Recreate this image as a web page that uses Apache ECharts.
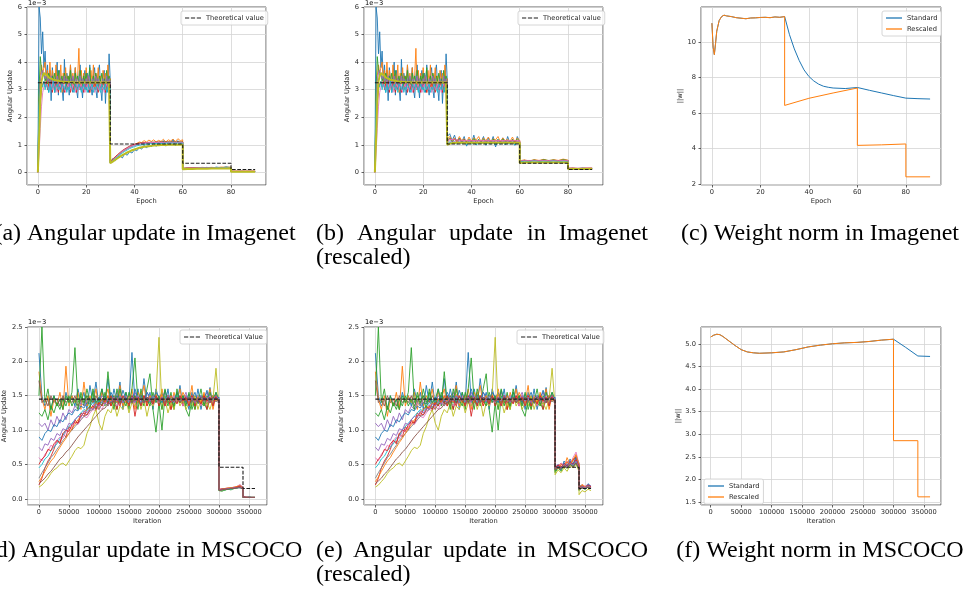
<!DOCTYPE html>
<html>
<head>
<meta charset="utf-8">
<title>Angular update and weight norm</title>
<script src="https://cdn.jsdelivr.net/npm/echarts@6/dist/echarts.min.js"></script>
<style>
  html, body { margin: 0; padding: 0; background: #fff; }
  #chart { width: 966px; height: 594px; }
</style>
</head>
<body>
<div id="chart"></div>
<script>
// ---------- Imagenet (epochs), angular update in units of 1e-3 ----------
const epHalf = [0,0.5,1,1.5,2,2.5,3,3.5,4,4.5,5,5.5,6,6.5,7,7.5,8,8.5,9,9.5,
  10,10.5,11,11.5,12,12.5,13,13.5,14,14.5,15,15.5,16,16.5,17,17.5,18,18.5,19,19.5,
  20,20.5,21,21.5,22,22.5,23,23.5,24,24.5,25,25.5,26,26.5,27,27.5,28,28.5,29,29.5,30];
const epS2 = [30,31,32,33,34,35,36,37,38,39,40,41,42,43,44,45,46,47,48,49,50,51,52,53,54,55,56,57,58,59,60];
const epS3 = [60,62,64,66,68,70,72,74,76,78,80];
const epS4 = [80,82,84,86,88,90];

// line order: blue, orange, green, red, purple, pink, cyan, olive
const imgColors = ['#1f77b4','#ff7f0e','#2ca02c','#d62728','#9467bd','#e377c2','#17becf','#bcbd22'];

// epochs 0-30, same run for standard and rescaled
const imgStage1 = [
  [0.05,6.0,5.6,4.3,5.1,3.8,4.4,3.4,3.9,2.9, 3.7,2.6,3.8,3.3,2.9,3.5,4.0,2.8,3.7,3.2,
   3.1,2.6,4.1,3.0,3.6,3.3,2.8,3.9,3.1,2.9, 3.4,3.8,3.0,2.7,3.5,3.9,3.2,2.7,3.4,3.7,
   3.0,3.6,2.9,3.9,3.1,2.8,3.5,3.8,3.0,2.7, 3.6,3.9,3.1,2.6,3.5,3.7,2.5,3.4,2.9,4.3, 3.3],
  [0.0,2.6,3.5,3.9,3.6,3.8,4.0,3.3,3.7,3.1, 4.0,3.2,3.7,3.4,3.1,3.9,3.0,3.6,3.3,3.9,
   2.9,3.6,3.2,3.8,3.0,3.5,3.3,3.9,3.1,3.6, 3.0,3.8,3.2,3.5,4.5,3.0,3.7,3.2,3.6,3.0,
   3.8,3.3,3.5,2.9,3.7,3.2,3.9,3.0,3.6,3.2, 3.8,3.1,3.5,3.0,3.7,3.3,3.6,3.0,3.9,3.2, 3.4],
  [0.0,3.0,4.2,3.7,3.5,3.6,3.3,3.5,3.2,3.6, 3.4,3.1,3.5,3.3,3.6,3.2,3.4,3.7,3.1,3.3,
   3.5,3.2,3.6,3.4,3.1,3.5,3.3,3.7,3.2,3.4, 3.1,3.6,3.3,3.5,3.2,3.7,3.4,3.1,3.5,3.3,
   3.6,3.2,3.4,3.8,3.1,3.3,3.5,3.2,3.6,3.4, 3.1,3.5,3.3,3.6,3.2,3.4,3.1,3.7,3.3,3.5, 3.3],
  [0.0,1.4,2.5,3.0,3.2,3.3,3.1,3.3,3.0,3.2, 3.1,3.3,2.9,3.2,3.0,3.3,3.1,2.9,3.2,3.0,
   3.3,3.1,2.9,3.2,3.0,3.1,3.3,2.9,3.1,3.2, 3.0,3.2,2.9,3.1,3.3,3.0,3.2,3.1,2.9,3.2,
   3.0,3.3,3.1,2.9,3.2,3.0,3.1,3.3,3.0,3.2, 2.9,3.1,3.2,3.0,3.3,3.1,2.9,3.2,3.0,3.1, 3.2],
  [0.0,2.2,3.3,3.6,3.7,3.5,3.4,3.5,3.3,3.4, 3.2,3.5,3.3,3.1,3.4,3.2,3.5,3.3,3.2,3.4,
   3.1,3.3,3.5,3.2,3.4,3.3,3.1,3.4,3.2,3.5, 3.3,3.2,3.4,3.1,3.3,3.5,3.2,3.4,3.3,3.1,
   3.4,3.2,3.5,3.3,3.1,3.4,3.2,3.3,3.5,3.2, 3.4,3.1,3.3,3.2,3.4,3.3,3.1,3.5,3.2,3.4, 3.3],
  [0.0,0.7,1.6,2.4,2.9,3.1,3.2,3.1,3.2,3.0, 3.1,3.2,3.0,3.1,3.2,2.9,3.1,3.0,3.2,3.1,
   3.0,3.2,3.1,2.9,3.1,3.2,3.0,3.1,3.0,3.2, 3.1,2.9,3.1,3.2,3.0,3.1,3.2,3.0,3.1,2.9,
   3.1,3.2,3.0,3.1,3.2,3.0,3.1,2.9,3.1,3.2, 3.0,3.1,3.2,3.0,3.1,2.9,3.1,3.2,3.0,3.1, 3.1],
  [0.3,2.4,3.0,3.2,3.1,3.3,3.0,3.2,3.1,2.9, 3.2,3.0,3.1,3.3,2.9,3.1,3.2,3.0,3.1,2.9,
   3.2,3.1,3.0,3.2,2.9,3.1,3.0,3.2,3.1,3.0, 2.9,3.2,3.1,3.0,3.2,3.1,2.9,3.1,3.2,3.0,
   3.1,2.9,3.2,3.0,3.1,3.2,2.9,3.1,3.0,3.2, 3.1,3.0,2.9,3.2,3.1,3.0,3.2,2.9,3.1,3.0, 3.1],
  [0.0,1.2,2.6,3.3,3.5,3.6,3.6,3.55,3.5,3.45, 3.42,3.4,3.38,3.36,3.35,3.34,3.33,3.32,3.31,3.3,
   3.3,3.29,3.29,3.28,3.28,3.28,3.27,3.27,3.27,3.27, 3.27,3.26,3.27,3.26,3.27,3.26,3.27,3.26,3.27,3.26,
   3.27,3.26,3.27,3.26,3.27,3.26,3.27,3.26,3.27,3.26, 3.27,3.26,3.27,3.26,3.27,3.26,3.27,3.26,3.27,3.26, 3.27]
];

// epochs 30-60, standard
const imgStage2Std = [
  [0.35,0.5,0.42,0.55,0.6,0.52,0.68,0.62,0.75,0.7, 0.82,0.78,0.9,0.84,0.98,0.88,1.02,0.92,1.08,0.94, 1.05,1.0,1.15,0.95,1.1,1.02,1.2,0.96,1.15,1.05, 1.1],
  [0.4,0.48,0.56,0.62,0.68,0.74,0.8,0.86,0.9,0.95, 1.0,1.05,1.1,1.08,1.15,1.1,1.17,1.12,1.18,1.1, 1.16,1.12,1.2,1.1,1.18,1.14,1.2,1.12,1.22,1.15, 1.18],
  [0.37,0.46,0.55,0.62,0.7,0.77,0.83,0.88,0.93,0.97, 1.0,1.03,1.05,1.06,1.07,1.08,1.08,1.09,1.09,1.09, 1.09,1.1,1.1,1.1,1.1,1.1,1.1,1.1,1.1,1.1, 1.1],
  [0.38,0.47,0.56,0.64,0.72,0.79,0.85,0.9,0.95,0.99, 1.02,1.04,1.06,1.07,1.08,1.08,1.09,1.09,1.09,1.1, 1.1,1.1,1.1,1.1,1.1,1.1,1.1,1.1,1.1,1.1, 1.1],
  [0.35,0.44,0.52,0.6,0.67,0.74,0.8,0.85,0.9,0.94, 0.97,1.0,1.02,1.04,1.05,1.06,1.06,1.07,1.07,1.07, 1.08,1.08,1.08,1.08,1.08,1.08,1.08,1.08,1.08,1.08, 1.08],
  [0.36,0.45,0.53,0.61,0.69,0.76,0.82,0.87,0.92,0.96, 0.99,1.01,1.03,1.05,1.06,1.07,1.07,1.08,1.08,1.08, 1.08,1.08,1.08,1.08,1.08,1.08,1.08,1.08,1.08,1.08, 1.08],
  [0.34,0.42,0.5,0.57,0.64,0.7,0.76,0.81,0.86,0.9, 0.93,0.96,0.98,1.0,1.01,1.02,1.03,1.04,1.04,1.05, 1.05,1.05,1.05,1.06,1.06,1.06,1.06,1.06,1.06,1.06, 1.06],
  [0.33,0.39,0.45,0.51,0.57,0.62,0.67,0.72,0.76,0.8, 0.83,0.86,0.89,0.91,0.93,0.94,0.95,0.96,0.97,0.98, 0.98,0.99,0.99,0.99,1.0,1.0,1.0,1.0,1.0,1.0, 1.0]
];
// epochs 30-60, rescaled
const imgStage2Res = [
  [1.3,1.4,1.15,1.35,1.05,1.25,1.1,1.3,0.95,1.2, 1.05,1.35,1.0,1.2,1.1,1.3,0.98,1.25,1.05,1.3, 0.92,1.2,1.08,1.25,1.0,1.3,1.05,1.2,0.98,1.3, 1.1],
  [1.2,1.3,1.15,1.25,1.1,1.3,1.15,1.22,1.1,1.28, 1.12,1.25,1.18,1.3,1.1,1.25,1.15,1.28,1.12,1.22, 1.18,1.3,1.1,1.25,1.15,1.2,1.12,1.28,1.1,1.25, 1.15],
  [1.15,1.25,1.1,1.2,1.15,1.22,1.08,1.2,1.12,1.18, 1.1,1.22,1.14,1.18,1.1,1.2,1.12,1.16,1.1,1.2, 1.14,1.18,1.1,1.2,1.12,1.16,1.1,1.18,1.12,1.2, 1.12],
  [1.1,1.22,1.18,1.2,1.16,1.18,1.15,1.17,1.14,1.16, 1.15,1.16,1.14,1.15,1.15,1.14,1.15,1.14,1.15,1.14, 1.14,1.15,1.14,1.14,1.15,1.14,1.14,1.15,1.14,1.14, 1.14],
  [1.05,1.15,1.1,1.12,1.08,1.14,1.1,1.12,1.06,1.13, 1.1,1.12,1.08,1.14,1.1,1.11,1.07,1.13,1.1,1.12, 1.08,1.12,1.1,1.13,1.07,1.12,1.1,1.11,1.08,1.12, 1.1],
  [1.12,1.2,1.19,1.18,1.17,1.17,1.16,1.16,1.16,1.15, 1.15,1.15,1.15,1.15,1.15,1.15,1.15,1.15,1.15,1.15, 1.15,1.15,1.15,1.15,1.15,1.15,1.15,1.15,1.15,1.15, 1.15],
  [1.0,1.1,1.05,1.08,1.02,1.1,1.04,1.08,1.0,1.07, 1.03,1.08,1.0,1.06,1.04,1.08,1.01,1.06,1.03,1.07, 1.0,1.06,1.03,1.08,1.01,1.05,1.03,1.07,1.0,1.06, 1.03],
  [1.0,1.04,1.06,1.06,1.07,1.07,1.07,1.07,1.07,1.07, 1.07,1.07,1.07,1.07,1.07,1.07,1.07,1.07,1.07,1.07, 1.07,1.07,1.07,1.07,1.07,1.07,1.07,1.07,1.07,1.07, 1.07]
];
// epochs 60-80
const imgStage3Std = [
  [0.13,0.16,0.14,0.17,0.15,0.18,0.15,0.19,0.16,0.2,0.17],
  [0.15,0.16,0.17,0.16,0.18,0.17,0.18,0.17,0.19,0.18,0.19],
  [0.14,0.15,0.15,0.16,0.16,0.16,0.17,0.17,0.17,0.18,0.17],
  [0.14,0.15,0.16,0.16,0.16,0.17,0.17,0.17,0.17,0.17,0.17],
  [0.13,0.14,0.15,0.15,0.16,0.16,0.16,0.16,0.17,0.17,0.17],
  [0.14,0.15,0.15,0.16,0.16,0.16,0.16,0.17,0.17,0.17,0.17],
  [0.12,0.13,0.14,0.14,0.15,0.15,0.15,0.16,0.16,0.16,0.16],
  [0.11,0.12,0.12,0.13,0.13,0.13,0.14,0.14,0.14,0.14,0.15]
];
const imgStage3Res = [
  [0.4,0.44,0.38,0.45,0.4,0.47,0.39,0.45,0.41,0.46,0.42],
  [0.42,0.45,0.41,0.46,0.43,0.47,0.42,0.46,0.43,0.48,0.44],
  [0.41,0.43,0.42,0.44,0.42,0.45,0.43,0.44,0.42,0.45,0.43],
  [0.42,0.43,0.43,0.43,0.43,0.43,0.43,0.43,0.43,0.43,0.43],
  [0.4,0.42,0.41,0.42,0.41,0.43,0.41,0.42,0.41,0.43,0.42],
  [0.42,0.42,0.42,0.42,0.42,0.42,0.42,0.42,0.42,0.42,0.42],
  [0.38,0.4,0.39,0.41,0.39,0.4,0.39,0.41,0.39,0.4,0.39],
  [0.34,0.36,0.36,0.36,0.36,0.36,0.36,0.36,0.36,0.36,0.36]
];
// epochs 80-90
const imgStage4Std = [
  [0.04,0.03,0.04,0.03,0.04,0.03],
  [0.04,0.04,0.04,0.04,0.04,0.04],
  [0.03,0.03,0.03,0.03,0.03,0.03],
  [0.04,0.04,0.04,0.04,0.04,0.04],
  [0.03,0.03,0.03,0.03,0.03,0.03],
  [0.04,0.04,0.04,0.04,0.04,0.04],
  [0.03,0.03,0.03,0.03,0.03,0.03],
  [0.02,0.02,0.02,0.02,0.02,0.02]
];
const imgStage4Res = [
  [0.14,0.15,0.13,0.16,0.14,0.15],
  [0.15,0.15,0.14,0.15,0.15,0.16],
  [0.14,0.14,0.14,0.14,0.14,0.14],
  [0.14,0.15,0.14,0.14,0.15,0.14],
  [0.13,0.14,0.13,0.14,0.13,0.14],
  [0.15,0.15,0.15,0.15,0.15,0.15],
  [0.13,0.13,0.13,0.13,0.13,0.13],
  [0.12,0.12,0.12,0.12,0.12,0.12]
];
const imgTheoX = [0,30,30,60,60,80,80,90];
const imgTheoY = [3.25,3.25,1.03,1.03,0.33,0.33,0.1,0.1];

// ---------- Imagenet weight norm ----------
const normEpShared = [0,0.5,1,1.5,2,3,4,5,6,8,10,12,14,16,18,20,22,24,26,28,30];
const normShared = [11.05,9.7,9.28,9.9,10.6,11.2,11.42,11.5,11.46,11.42,11.36,11.33,11.3,11.34,11.35,11.37,11.38,11.36,11.4,11.38,11.42];
const normStdEp = [30,32,34,36,38,40,42,44,46,48,50,55,60,65,70,75,80,85,90];
const normStd = [11.42,10.4,9.6,8.95,8.42,8.05,7.8,7.62,7.5,7.44,7.4,7.37,7.43,7.27,7.12,6.97,6.83,6.8,6.78];
const normResEp = [30,30,40,50,60,60,70,80,80,90];
const normRes = [11.42,6.42,6.82,7.12,7.4,4.17,4.2,4.25,2.4,2.4];

// ---------- MSCOCO (iterations), angular update in units of 1e-3 ----------
const itS1 = [0,5000,10000,15000,20000,25000,30000,35000,40000,45000,
  50000,55000,60000,65000,70000,75000,80000,85000,90000,95000,
  100000,105000,110000,115000,120000,125000,130000,135000,140000,145000,
  150000,155000,160000,165000,170000,175000,180000,185000,190000,195000,
  200000,205000,210000,215000,220000,225000,230000,235000,240000,245000,
  250000,255000,260000,265000,270000,275000,280000,285000,290000,295000,300000];
const itS2 = [300000,305000,310000,315000,320000,325000,330000,335000,340000];
const itS3 = [340000,345000,350000,355000,360000];

// tab10 cycle: blue, orange, green, red, purple, brown, pink, gray, olive, cyan, then again
const cocoColors = ['#1f77b4','#ff7f0e','#2ca02c','#d62728','#9467bd','#8c564b','#e377c2','#7f7f7f','#bcbd22','#17becf',
                    '#1f77b4','#ff7f0e','#2ca02c','#d62728','#9467bd','#8c564b'];

const cocoStage1 = [
  [2.12,1.5,1.35,1.45,1.3,1.5,1.35,1.45,1.3,1.55, 1.4,1.5,1.35,1.6,1.4,1.55,1.3,1.65,1.4,1.7,
   1.35,1.6,1.4,1.75,1.35,1.6,1.4,1.7,1.3,1.55, 1.4,2.13,1.4,1.6,1.35,1.75,1.4,1.55,1.3,1.6,
   1.45,1.55,1.35,1.6,1.3,1.5,1.4,1.65,1.35,1.5, 1.3,1.55,1.35,1.6,1.3,1.5,1.4,1.62,1.35,1.55, 1.45],
  [1.85,1.45,1.3,1.5,1.2,1.45,1.35,1.55,1.3,1.93, 1.35,1.5,1.4,1.55,1.3,1.7,1.35,1.5,1.4,1.6,
   1.3,1.55,1.45,1.6,1.35,1.5,1.4,1.65,1.35,1.5, 1.4,1.6,1.3,1.55,1.45,1.65,1.35,1.5,1.4,1.55,
   1.35,1.6,1.4,1.5,1.3,1.55,1.4,1.6,1.35,1.5, 1.4,1.65,1.3,1.5,1.35,1.55,1.4,1.6,1.3,1.5, 1.4],
  [1.5,2.5,1.4,1.6,1.3,1.5,1.35,1.45,1.3,1.5, 1.4,1.55,2.2,1.4,1.5,1.35,1.6,1.4,1.55,1.3,
   1.45,1.6,1.35,1.85,1.4,1.5,1.3,1.6,1.4,1.55, 1.3,1.6,2.05,1.4,1.5,1.35,1.6,1.82,1.3,0.97,
   1.4,1.0,1.5,1.35,1.55,1.3,1.6,1.4,1.5,1.3, 1.2,1.45,1.3,1.5,1.35,1.4,1.3,1.55,1.4,1.5, 1.45],
  [0.2,0.3,0.45,0.55,0.62,0.72,0.85,0.8,0.95,0.9, 1.05,1.0,1.15,1.1,1.25,1.2,1.3,1.35,1.3,1.4,
   1.35,1.45,1.4,1.5,1.35,1.45,1.3,1.5,1.4,1.45, 1.35,1.5,1.2,1.45,1.4,1.5,1.35,1.45,1.4,1.5,
   1.35,1.45,1.4,1.5,1.3,1.45,1.4,1.5,1.35,1.45, 1.4,1.5,1.35,1.45,1.4,1.5,1.3,1.45,1.4,1.5, 1.4],
  [1.1,1.05,1.1,1.0,1.15,1.05,1.2,1.1,1.25,1.15, 1.3,1.25,1.35,1.3,1.4,1.35,1.45,1.4,1.35,1.45,
   1.4,1.5,1.45,1.4,1.5,1.45,1.55,1.4,1.5,1.45, 1.5,1.4,1.55,1.45,1.5,1.4,1.55,1.45,1.5,1.4,
   1.5,1.45,1.55,1.4,1.5,1.45,1.4,1.5,1.45,1.55, 1.4,1.5,1.45,1.4,1.5,1.45,1.55,1.4,1.5,1.45, 1.45],
  [1.72,1.4,1.45,1.35,1.5,1.4,1.45,1.35,1.5,1.4, 1.45,1.4,1.5,1.35,1.45,1.4,1.5,1.45,1.4,1.5,
   1.4,1.45,1.5,1.4,1.45,1.35,1.5,1.45,1.4,1.5, 1.45,1.4,1.5,1.45,1.4,1.5,1.45,1.4,1.5,1.45,
   1.4,1.5,1.45,1.4,1.5,1.45,1.4,1.45,1.5,1.4, 1.45,1.4,1.5,1.45,1.4,1.5,1.45,1.4,1.5,1.45, 1.45],
  [0.6,0.55,0.65,0.7,0.78,0.75,0.85,0.9,0.88,0.98, 1.0,1.05,1.1,1.08,1.15,1.2,1.18,1.25,1.3,1.28,
   1.35,1.3,1.4,1.35,1.45,1.4,1.35,1.45,1.4,1.5, 1.4,1.45,1.35,1.5,1.4,1.45,1.4,1.5,1.35,1.45,
   1.4,1.5,1.35,1.45,1.4,1.5,1.4,1.45,1.35,1.5, 1.4,1.45,1.4,1.5,1.35,1.45,1.4,1.5,1.4,1.45, 1.4],
  [0.3,0.38,0.45,0.52,0.6,0.65,0.72,0.78,0.85,0.9, 0.95,1.0,1.05,1.1,1.15,1.2,1.22,1.28,1.3,1.35,
   1.3,1.38,1.4,1.35,1.42,1.4,1.45,1.38,1.42,1.4, 1.42,1.38,1.45,1.4,1.38,1.45,1.4,1.42,1.38,1.45,
   1.4,1.42,1.38,1.45,1.4,1.38,1.42,1.45,1.4,1.38, 1.42,1.4,1.45,1.38,1.42,1.4,1.38,1.45,1.4,1.42, 1.4],
  [0.17,0.2,0.25,0.3,0.37,0.42,0.45,0.5,0.52,0.48, 0.55,0.62,0.7,0.75,0.73,0.78,0.95,1.05,1.2,1.3,
   1.1,1.0,1.2,1.3,1.25,1.4,1.2,1.35,1.3,1.45, 1.25,1.4,1.35,1.5,1.3,1.45,1.2,1.4,1.35,1.5,
   2.35,1.3,1.45,1.25,1.4,1.3,1.5,1.35,1.45,1.3, 1.4,1.35,1.5,1.3,1.45,1.35,1.4,1.3,1.45,1.9, 1.35],
  [0.45,0.5,0.58,0.62,0.7,0.75,0.8,0.88,0.92,1.0, 1.05,1.1,1.15,1.2,1.25,1.3,1.28,1.35,1.4,1.38,
   1.42,1.4,1.45,1.38,1.5,1.42,1.4,1.48,1.4,1.45, 1.4,1.5,1.42,1.45,1.4,1.48,1.42,1.4,1.5,1.42,
   1.45,1.4,1.48,1.42,1.45,1.4,1.5,1.42,1.45,1.4, 1.48,1.42,1.45,1.4,1.5,1.42,1.45,1.4,1.48,1.42, 1.45],
  [0.9,0.85,0.95,1.0,0.98,1.08,1.05,1.15,1.12,1.2, 1.25,1.22,1.3,1.28,1.35,1.32,1.4,1.38,1.45,1.4,
   1.48,1.42,1.5,1.4,1.55,1.45,1.5,1.4,1.58,1.45, 1.5,1.42,1.6,1.45,1.52,1.4,1.55,1.48,1.42,1.55,
   1.48,1.4,1.58,1.45,1.5,1.42,1.55,1.45,1.5,1.4, 1.52,1.45,1.55,1.4,1.5,1.45,1.58,1.42,1.5,1.45, 1.48],
  [0.25,0.32,0.4,0.48,0.55,0.6,0.68,0.75,0.82,0.88, 0.95,1.02,1.08,1.15,1.2,1.26,1.3,1.35,1.32,1.4,
   1.38,1.45,1.4,1.5,1.42,1.48,1.4,1.52,1.45,1.4, 1.5,1.42,1.48,1.4,1.55,1.45,1.4,1.5,1.42,1.48,
   1.4,1.52,1.45,1.4,1.5,1.42,1.48,1.4,1.55,1.45, 1.4,1.5,1.42,1.48,1.4,1.52,1.45,1.4,1.5,1.42, 1.45],
  [1.25,1.2,1.3,1.15,1.35,1.25,1.4,1.3,1.45,1.35, 1.5,1.35,1.45,1.3,1.55,1.4,1.5,1.3,1.6,1.4,
   1.45,1.35,1.55,1.4,1.5,1.3,1.6,1.4,1.45,1.35, 1.55,1.4,1.5,1.3,1.6,1.4,1.45,1.35,1.55,1.4,
   1.5,1.3,1.6,1.4,1.45,1.35,1.55,1.4,1.5,1.35, 1.55,1.3,1.45,1.4,1.6,1.35,1.5,1.4,1.45,1.55, 1.4],
  [0.5,0.58,0.62,0.72,0.7,0.8,0.85,0.82,0.95,1.0, 0.98,1.08,1.12,1.1,1.2,1.25,1.22,1.3,1.35,1.3,
   1.4,1.35,1.45,1.38,1.5,1.4,1.45,1.35,1.5,1.42, 1.38,1.5,1.42,1.48,1.35,1.5,1.4,1.45,1.38,1.5,
   1.42,1.48,1.35,1.5,1.4,1.45,1.38,1.5,1.42,1.48, 1.35,1.5,1.4,1.45,1.38,1.5,1.42,1.48,1.35,1.5, 1.4],
  [0.75,0.7,0.8,0.78,0.88,0.85,0.95,0.92,1.02,1.0, 1.1,1.08,1.15,1.2,1.18,1.28,1.25,1.32,1.3,1.38,
   1.35,1.42,1.38,1.45,1.4,1.48,1.42,1.5,1.4,1.45, 1.42,1.48,1.4,1.5,1.45,1.4,1.48,1.42,1.5,1.45,
   1.4,1.48,1.42,1.5,1.45,1.4,1.48,1.42,1.45,1.5, 1.42,1.48,1.4,1.45,1.5,1.42,1.48,1.4,1.45,1.5, 1.45],
  [0.22,0.26,0.3,0.36,0.4,0.46,0.52,0.58,0.62,0.68, 0.72,0.78,0.84,0.9,0.95,1.0,1.05,1.1,1.15,1.2,
   1.25,1.3,1.32,1.38,1.4,1.42,1.45,1.4,1.48,1.42, 1.45,1.4,1.48,1.42,1.45,1.4,1.48,1.45,1.42,1.48,
   1.42,1.45,1.4,1.48,1.45,1.42,1.48,1.4,1.45,1.42, 1.48,1.42,1.45,1.4,1.48,1.42,1.45,1.4,1.48,1.45, 1.42]
];
// iterations 300k-340k
const cocoStage2Std = [
  [0.14,0.13,0.15,0.14,0.16,0.15,0.17,0.2,0.16],
  [0.13,0.14,0.14,0.15,0.15,0.16,0.18,0.19,0.17],
  [0.12,0.11,0.13,0.14,0.13,0.15,0.16,0.17,0.15],
  [0.14,0.14,0.15,0.15,0.16,0.16,0.17,0.18,0.16],
  [0.13,0.14,0.14,0.15,0.15,0.16,0.17,0.18,0.16],
  [0.13,0.13,0.14,0.14,0.15,0.15,0.16,0.17,0.15],
  [0.14,0.15,0.15,0.16,0.16,0.17,0.18,0.21,0.17],
  [0.13,0.14,0.14,0.15,0.15,0.16,0.16,0.17,0.15],
  [0.12,0.12,0.13,0.14,0.14,0.15,0.16,0.17,0.15],
  [0.12,0.13,0.13,0.14,0.14,0.15,0.16,0.16,0.14],
  [0.13,0.14,0.15,0.15,0.16,0.16,0.17,0.18,0.16],
  [0.14,0.14,0.15,0.16,0.16,0.17,0.18,0.19,0.16],
  [0.12,0.13,0.13,0.14,0.15,0.15,0.16,0.17,0.15],
  [0.13,0.14,0.14,0.15,0.15,0.16,0.17,0.18,0.15],
  [0.13,0.13,0.14,0.15,0.15,0.16,0.16,0.17,0.15],
  [0.12,0.13,0.14,0.14,0.15,0.15,0.16,0.16,0.14]
];
const cocoStage2Res = [
  [0.45,0.5,0.42,0.55,0.48,0.58,0.5,0.62,0.52],
  [0.42,0.48,0.52,0.45,0.6,0.5,0.55,0.65,0.48],
  [0.38,0.45,0.4,0.5,0.44,0.52,0.48,0.55,0.42],
  [0.47,0.44,0.5,0.48,0.53,0.5,0.57,0.6,0.5],
  [0.44,0.5,0.46,0.52,0.48,0.56,0.5,0.58,0.47],
  [0.46,0.48,0.44,0.5,0.47,0.52,0.5,0.55,0.46],
  [0.5,0.46,0.52,0.49,0.55,0.5,0.6,0.68,0.5],
  [0.45,0.47,0.45,0.48,0.46,0.5,0.48,0.52,0.45],
  [0.35,0.42,0.38,0.45,0.4,0.48,0.45,0.5,0.4],
  [0.43,0.46,0.42,0.5,0.45,0.52,0.47,0.55,0.44],
  [0.44,0.48,0.45,0.52,0.47,0.55,0.5,0.6,0.48],
  [0.46,0.44,0.5,0.47,0.54,0.49,0.58,0.63,0.5],
  [0.4,0.46,0.43,0.48,0.45,0.5,0.47,0.52,0.43],
  [0.45,0.49,0.46,0.51,0.48,0.53,0.5,0.57,0.47],
  [0.43,0.47,0.44,0.5,0.46,0.52,0.49,0.55,0.45],
  [0.42,0.45,0.43,0.48,0.45,0.5,0.46,0.52,0.44]
];
// iterations 340k-360k
const cocoStage3Std = [
  [0.03,0.02,0.03,0.02,0.02],
  [0.03,0.03,0.02,0.02,0.02],
  [0.02,0.02,0.02,0.02,0.02],
  [0.03,0.02,0.02,0.02,0.02],
  [0.02,0.02,0.02,0.02,0.02],
  [0.02,0.02,0.02,0.02,0.02],
  [0.03,0.03,0.02,0.02,0.02],
  [0.02,0.02,0.02,0.02,0.02],
  [0.02,0.02,0.02,0.02,0.02],
  [0.02,0.02,0.02,0.02,0.02],
  [0.03,0.02,0.02,0.02,0.02],
  [0.02,0.02,0.02,0.02,0.02],
  [0.02,0.02,0.02,0.02,0.02],
  [0.03,0.02,0.02,0.02,0.02],
  [0.02,0.02,0.02,0.02,0.02],
  [0.02,0.02,0.02,0.02,0.02]
];
const cocoStage3Res = [
  [0.18,0.2,0.16,0.22,0.18],
  [0.16,0.21,0.18,0.2,0.17],
  [0.12,0.17,0.14,0.18,0.15],
  [0.17,0.19,0.16,0.2,0.18],
  [0.15,0.18,0.17,0.19,0.16],
  [0.14,0.17,0.15,0.18,0.16],
  [0.16,0.2,0.18,0.21,0.19],
  [0.15,0.17,0.16,0.18,0.16],
  [0.06,0.12,0.1,0.14,0.12],
  [0.14,0.18,0.15,0.19,0.16],
  [0.17,0.19,0.16,0.21,0.18],
  [0.15,0.2,0.17,0.19,0.17],
  [0.13,0.16,0.14,0.17,0.15],
  [0.16,0.18,0.16,0.2,0.17],
  [0.14,0.18,0.16,0.19,0.16],
  [0.13,0.16,0.15,0.17,0.15]
];
const cocoTheoX = [0,300000,300000,340000,340000,360000];
const cocoTheoY = [1.45,1.45,0.46,0.46,0.15,0.15];

// ---------- MSCOCO weight norm ----------
const cocoNormItShared = [0,5000,10000,15000,20000,30000,40000,50000,60000,70000,80000,100000,120000,140000,160000,180000,200000,220000,240000,260000,280000,300000];
const cocoNormShared = [5.15,5.19,5.21,5.2,5.16,5.06,4.96,4.87,4.82,4.8,4.79,4.8,4.82,4.87,4.93,4.97,5.0,5.02,5.03,5.05,5.08,5.1];
const cocoNormStdIt = [300000,320000,340000,360000];
const cocoNormStd = [5.1,4.92,4.73,4.72];
const cocoNormResIt = [300000,300000,340000,340000,360000];
const cocoNormRes = [5.1,2.86,2.86,1.62,1.62];

// ---------- drawing ----------
const FRAME = '#3a3a3a';
const GRIDLINE = '#d4d4d4';
const TEXT = '#262626';
const FS = 6.7;
const DASH_ICON = 'path://M0,0h5v1h-5z M7,0h5v1h-5z M14,0h5v1h-5z';

function seg(xs, ys) { return xs.map((x, i) => [x, ys[i]]); }

function font() { return { fontSize: FS, color: TEXT, fontFamily: 'DejaVu Sans' }; }

function valueAxis(gi, o) {
  return {
    type: 'value', gridIndex: gi, min: o.min, max: o.max, splitNumber: o.split,
    name: o.name, nameLocation: 'middle', nameGap: o.gap, nameTextStyle: font(),
    axisLine: { show: false, onZero: false },
    axisTick: { show: true, length: 2.5, lineStyle: { color: FRAME, width: 0.8 } },
    axisLabel: Object.assign(font(), {
      margin: o.margin, showMinLabel: false, showMaxLabel: !!o.showMax,
      formatter: o.fmt || (v => String(v))
    }),
    splitLine: { show: true, lineStyle: { color: GRIDLINE, width: 0.8 } }
  };
}

function line(name, gi, data, color, width, dash) {
  return {
    type: 'line', name, xAxisIndex: gi, yAxisIndex: gi, data,
    symbol: 'none', showSymbol: false, silent: true, animation: false,
    lineStyle: { color, width, type: dash || 'solid' }, itemStyle: { color }
  };
}

function legendBox(left, top, items, orient) {
  return {
    left, top, orient: orient || 'horizontal', data: items, selectedMode: false,
    itemWidth: 16, itemHeight: 1.3, itemGap: 3, padding: [3, 4],
    backgroundColor: 'rgba(255,255,255,0.85)', borderColor: '#cccccc', borderWidth: 0.8, borderRadius: 2,
    textStyle: Object.assign(font(), { lineHeight: 8 })
  };
}

const boxes = [[27, 7, 239, 178], [364, 7, 239, 178], [701, 7, 240, 178],
               [27, 327, 240, 178], [364, 327, 239, 178], [701, 327, 240, 178]];

const series = [];
// (a) and (b)
[[0, imgStage2Std, imgStage3Std, imgStage4Std], [1, imgStage2Res, imgStage3Res, imgStage4Res]].forEach(([gi, s2, s3, s4]) => {
  imgColors.forEach((c, k) => {
    const data = seg(epHalf, imgStage1[k]).concat(seg(epS2, s2[k]), seg(epS3, s3[k]), seg(epS4, s4[k]));
    series.push(line('img' + gi + '_' + k, gi, data, c, k === imgColors.length - 1 ? 2 : 0.9));
  });
  series.push(line('Theoretical value', gi, seg(imgTheoX, imgTheoY), '#1a1a1a', 1.1, [3.7, 1.6]));
});
// (c)
series.push(line('Standard', 2, seg(normEpShared, normShared).concat(seg(normStdEp, normStd)), '#1f77b4', 1));
series.push(line('Rescaled', 2, seg(normEpShared, normShared).concat(seg(normResEp, normRes)), '#ff7f0e', 1));
// (d) and (e)
[[3, cocoStage2Std, cocoStage3Std], [4, cocoStage2Res, cocoStage3Res]].forEach(([gi, s2, s3]) => {
  cocoColors.forEach((c, k) => {
    const data = seg(itS1, cocoStage1[k]).concat(seg(itS2, s2[k]), seg(itS3, s3[k]));
    series.push(line('coco' + gi + '_' + k, gi, data, c, 0.9));
  });
  series.push(line('Theoretical Value', gi, seg(cocoTheoX, cocoTheoY), '#1a1a1a', 1.1, [3.7, 1.6]));
});
// (f)
series.push(line('Standard', 5, seg(cocoNormItShared, cocoNormShared).concat(seg(cocoNormStdIt, cocoNormStd)), '#1f77b4', 1));
series.push(line('Rescaled', 5, seg(cocoNormItShared, cocoNormShared).concat(seg(cocoNormResIt, cocoNormRes)), '#ff7f0e', 1));

const epochAxis = gi => valueAxis(gi, { min: -4.5, max: 94.5, split: 5, name: 'Epoch', gap: 13, margin: 4 });
const iterAxis = (gi, min, max) => valueAxis(gi, { min, max, split: 8, name: 'Iteration', gap: 13, margin: 4 });
const f1 = v => v.toFixed(1);

function txt(text, x, y, size, family, align) {
  return {
    type: 'text', x, y, silent: true,
    style: { text, fill: '#000', font: size + 'px "' + family + '"',
             textAlign: align, align, textVerticalAlign: 'middle', verticalAlign: 'middle' }
  };
}

const CAP = 'Liberation Serif';
const CS = 24;
const graphics = [
  txt('1e\u22123', 28, 3, FS, 'DejaVu Sans', 'left'),
  txt('1e\u22123', 365, 3, FS, 'DejaVu Sans', 'left'),
  txt('1e\u22123', 28, 322, FS, 'DejaVu Sans', 'left'),
  txt('1e\u22123', 365, 322, FS, 'DejaVu Sans', 'left'),
  // row 1 captions
  txt('(a) Angular update in Imagenet', 145, 234, CS, CAP, 'center'),
  txt('(b)', 316, 234, CS, CAP, 'left'),
  txt('Angular', 357, 234, CS, CAP, 'left'),
  txt('update', 449, 234, CS, CAP, 'left'),
  txt('in', 527, 234, CS, CAP, 'left'),
  txt('Imagenet', 648, 234, CS, CAP, 'right'),
  txt('(rescaled)', 316, 258, CS, CAP, 'left'),
  txt('(c) Weight norm in Imagenet', 820, 234, CS, CAP, 'center'),
  // row 2 captions
  txt('(d) Angular update in MSCOCO', 145, 551, CS, CAP, 'center'),
  txt('(e)', 316, 551, CS, CAP, 'left'),
  txt('Angular', 353, 551, CS, CAP, 'left'),
  txt('update', 443, 551, CS, CAP, 'left'),
  txt('in', 517, 551, CS, CAP, 'left'),
  txt('MSCOCO', 648, 551, CS, CAP, 'right'),
  txt('(rescaled)', 316, 575, CS, CAP, 'left'),
  txt('(f) Weight norm in MSCOCO', 820, 551, CS, CAP, 'center')
];

const option = {
  animation: false,
  backgroundColor: '#ffffff',
  grid: boxes.map(b => ({ left: b[0], top: b[1], width: b[2], height: b[3], show: true,
                          borderColor: FRAME, borderWidth: 0.8, backgroundColor: 'transparent' })),
  xAxis: [
    epochAxis(0), epochAxis(1), epochAxis(2),
    iterAxis(3, -19000, 380000), iterAxis(4, -19000, 380000), iterAxis(5, -16000, 378000)
  ],
  yAxis: [
    valueAxis(0, { min: -0.46, max: 6, split: 6, name: 'Angular Update', gap: 12, margin: 5, showMax: true }),
    valueAxis(1, { min: -0.46, max: 6, split: 6, name: 'Angular Update', gap: 12, margin: 5, showMax: true }),
    valueAxis(2, { min: 1.94, max: 11.96, split: 5, name: '||w||', gap: 15, margin: 5 }),
    valueAxis(3, { min: -0.09, max: 2.5, split: 5, name: 'Angular Update', gap: 18, margin: 5, showMax: true, fmt: f1 }),
    valueAxis(4, { min: -0.09, max: 2.5, split: 5, name: 'Angular Update', gap: 18.5, margin: 5, showMax: true, fmt: f1 }),
    valueAxis(5, { min: 1.44, max: 5.37, split: 8, name: '||w||', gap: 18, margin: 5, fmt: f1 })
  ],
  legend: [
    legendBox(181, 11, [{ name: 'Theoretical value', icon: DASH_ICON, itemStyle: { color: '#1a1a1a' } }]),
    legendBox(518, 11, [{ name: 'Theoretical value', icon: DASH_ICON, itemStyle: { color: '#1a1a1a' } }]),
    legendBox(882, 11, [{ name: 'Standard', icon: 'rect' }, { name: 'Rescaled', icon: 'rect' }], 'vertical'),
    legendBox(180, 330, [{ name: 'Theoretical Value', icon: DASH_ICON, itemStyle: { color: '#1a1a1a' } }]),
    legendBox(517, 330, [{ name: 'Theoretical Value', icon: DASH_ICON, itemStyle: { color: '#1a1a1a' } }]),
    legendBox(704, 479, [{ name: 'Standard', icon: 'rect' }, { name: 'Rescaled', icon: 'rect' }], 'vertical')
  ],
  graphic: graphics,
  series
};

const chart = echarts.init(document.getElementById('chart'), null, { renderer: 'canvas' });
chart.setOption(option);
</script>
</body>
</html>
